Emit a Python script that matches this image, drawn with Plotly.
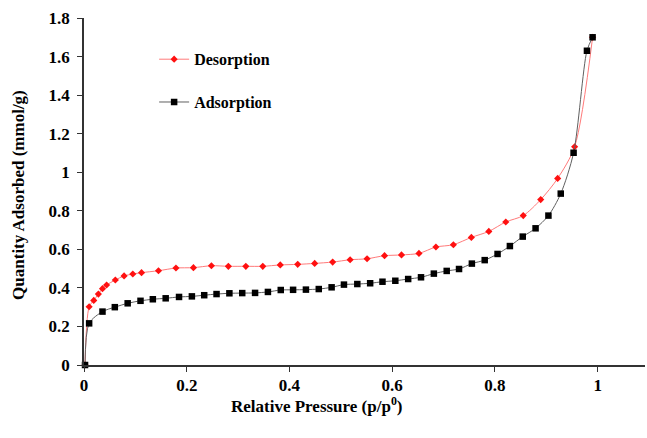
import plotly.graph_objects as go

# Adsorption branch (black squares)
ads_x = [0.002, 0.01, 0.036, 0.06, 0.085, 0.11, 0.134, 0.159, 0.185, 0.21, 0.234,
         0.258, 0.283, 0.308, 0.333, 0.358, 0.383, 0.407, 0.432, 0.457, 0.482, 0.506,
         0.532, 0.557, 0.581, 0.606, 0.631, 0.656, 0.681, 0.706, 0.73, 0.755, 0.78,
         0.805, 0.829, 0.854, 0.879, 0.904, 0.928, 0.953, 0.979, 0.99]
ads_y = [0.0, 0.216, 0.277, 0.30, 0.32, 0.333, 0.341, 0.346, 0.353, 0.356, 0.362,
         0.368, 0.372, 0.373, 0.374, 0.379, 0.389, 0.39, 0.391, 0.394, 0.403, 0.417,
         0.42, 0.424, 0.432, 0.437, 0.446, 0.455, 0.474, 0.488, 0.498, 0.526, 0.544,
         0.576, 0.617, 0.666, 0.709, 0.775, 0.889, 1.101, 1.63, 1.70]

# Desorption branch (red diamonds)
des_x = [0.99, 0.955, 0.922, 0.889, 0.855, 0.821, 0.788, 0.754, 0.719, 0.685, 0.652,
         0.618, 0.585, 0.551, 0.518, 0.484, 0.449, 0.416, 0.382, 0.348, 0.315, 0.281,
         0.248, 0.213, 0.179, 0.145, 0.112, 0.095, 0.078, 0.061, 0.044, 0.036, 0.028,
         0.019, 0.01, 0.002]
des_y = [1.70, 1.132, 0.968, 0.858, 0.775, 0.742, 0.693, 0.662, 0.624, 0.612, 0.579,
         0.571, 0.567, 0.551, 0.546, 0.534, 0.527, 0.522, 0.519, 0.512, 0.512, 0.512,
         0.515, 0.505, 0.503, 0.489, 0.479, 0.472, 0.462, 0.441, 0.415, 0.396, 0.368,
         0.335, 0.302, 0.0]

x_ticks = [0, 0.2, 0.4, 0.6, 0.8, 1]
x_ticklabels = ["0", "0.2", "0.4", "0.6", "0.8", "1"]
y_ticks = [0, 0.2, 0.4, 0.6, 0.8, 1, 1.2, 1.4, 1.6, 1.8]
y_ticklabels = ["0", "0.2", "0.4", "0.6", "0.8", "1", "1.2", "1.4", "1.6", "1.8"]

x_title = "Relative Pressure (p/p<sup>0</sup>)"
y_title = "Quantity Adsorbed (mmol/g)"

FONT = "Liberation Serif, Times New Roman, serif"

fig = go.Figure()
fig.add_trace(go.Scatter(
    x=des_x, y=des_y, name="Desorption", mode="lines+markers",
    line=dict(color="#ff7a7a", width=1, shape="spline", smoothing=0.8),
    marker=dict(symbol="diamond", size=5.5, color="#ff1010"),
    legendgroup="d", cliponaxis=False))
fig.add_trace(go.Scatter(
    x=ads_x, y=ads_y, name="Adsorption", mode="lines+markers",
    line=dict(color="#606060", width=1, shape="spline", smoothing=0.8),
    marker=dict(symbol="square", size=6.5, color="#000000"),
    legendgroup="a", cliponaxis=False))

axis_common = dict(showgrid=False, zeroline=False, showline=True,
                   linecolor="#333333", linewidth=1.5, ticks="outside", ticklen=5,
                   tickcolor="#333333", tickwidth=1.2,
                   tickfont=dict(family=FONT, size=17, color="black", weight="bold"))

fig.update_layout(
    width=647, height=438,
    margin=dict(l=84, r=2, t=18, b=73),
    paper_bgcolor="white", plot_bgcolor="white",
    font=dict(family=FONT, size=16, color="black"),
    showlegend=True,
    legend=dict(x=0.125, y=0.93, xanchor="left", yanchor="top",
                font=dict(family=FONT, size=16, color="black", weight="bold"),
                tracegroupgap=19, bgcolor="rgba(0,0,0,0)", itemwidth=30),
    xaxis=dict(range=[0, 1.092], tickvals=x_ticks, ticktext=x_ticklabels,
               ticklabelstandoff=-1, **axis_common),
    yaxis=dict(range=[0, 1.8], tickvals=y_ticks, ticktext=y_ticklabels,
               ticklabelstandoff=4, **axis_common),
    annotations=[
        dict(text="<b>" + x_title + "</b>", xref="paper", yref="paper",
             x=0.415, y=-0.114, xanchor="center", yanchor="middle", showarrow=False,
             font=dict(family=FONT, size=17, color="black")),
        dict(text="<b>" + y_title + "</b>", xref="paper", yref="paper",
             x=-0.116, y=0.49, xanchor="center", yanchor="middle", showarrow=False,
             textangle=-90, font=dict(family=FONT, size=17, color="black")),
    ],
)

fig.write_html("out.html", config={"displayModeBar": False},
               post_script="document.body.style.margin='0';")
